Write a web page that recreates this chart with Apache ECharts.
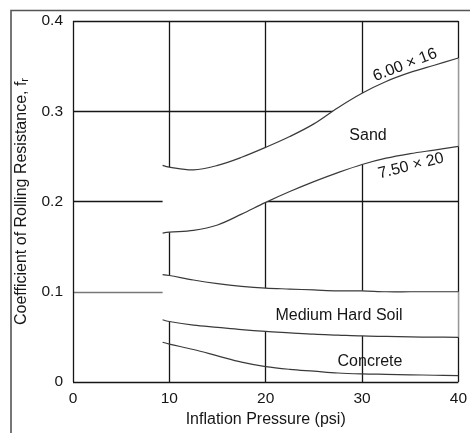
<!DOCTYPE html>
<html>
<head>
<meta charset="utf-8">
<script src="https://cdn.jsdelivr.net/npm/echarts@6/dist/echarts.min.js"></script>
<style>
  html, body { margin: 0; padding: 0; background: #fff; }
  #chart { width: 470px; height: 433px; }
</style>
</head>
<body>
<div id="chart"></div>
<script>
// Inflation pressure (psi) at which each curve is sampled
const pressure = [9.3, 10, 12.5, 15, 17.5, 20, 22.5, 25, 27.5, 30, 32.5, 35, 37.5, 40];

// Rolling resistance coefficient f_r
const sand600x16 = [0.240, 0.238, 0.235, 0.240, 0.249, 0.260, 0.272, 0.286, 0.304, 0.320, 0.333, 0.343, 0.351, 0.359];
const sand750x20 = [0.165, 0.166, 0.168, 0.174, 0.186, 0.199, 0.211, 0.222, 0.232, 0.241, 0.248, 0.253, 0.257, 0.261];
const soilUpper  = [0.119, 0.118, 0.113, 0.109, 0.106, 0.104, 0.103, 0.102, 0.101, 0.101, 0.100, 0.100, 0.100, 0.100];
const soilLower  = [0.069, 0.067, 0.063, 0.0605, 0.058, 0.056, 0.0545, 0.053, 0.052, 0.051, 0.0505, 0.050, 0.0497, 0.0495];
const concrete   = [0.044, 0.042, 0.036, 0.029, 0.022, 0.017, 0.014, 0.012, 0.010, 0.009, 0.0085, 0.008, 0.0075, 0.007];

const xTickLabels = ['0', '10', '20', '30', '40'];
const yTickLabels = ['0', '0.1', '0.2', '0.3', '0.4'];

const FONT = "'Liberation Sans', Arial, Helvetica, sans-serif";
const INK = '#161616';
const CURVE = '#3a3a3a';
const SMOOTH = 0.35;

function project(api, ys) {
  return pressure.map((x, i) => api.coord([x, ys[i]]));
}

// White band between two curves, hiding the grid underneath, closed on the right
function bandSeries(upper, lower) {
  return {
    type: 'custom',
    coordinateSystem: 'cartesian2d',
    silent: true,
    z: 3,
    data: [0],
    renderItem: function (params, api) {
      const top = project(api, upper);
      const bot = project(api, lower);
      const n = top.length - 1;
      const ring = [top[0], top[0]].concat(top.slice(1), [top[n], bot[n]], bot.slice().reverse(), [bot[0]]);
      const edgeTop = api.coord([pressure[n], upper[n]]);
      const edgeBot = api.coord([pressure[n], lower[n]]);
      return {
        type: 'group',
        children: [
          { type: 'polygon', shape: { points: ring, smooth: SMOOTH }, style: { fill: '#ffffff', stroke: null } },
          { type: 'line', shape: { x1: edgeTop[0], y1: edgeTop[1], x2: edgeBot[0], y2: edgeBot[1] },
            style: { stroke: '#9a9a9a', lineWidth: 1.2 } },
          { type: 'polyline', shape: { points: top, smooth: SMOOTH }, style: { stroke: CURVE, lineWidth: 1.2, fill: null } },
          { type: 'polyline', shape: { points: bot, smooth: SMOOTH }, style: { stroke: CURVE, lineWidth: 1.2, fill: null } }
        ]
      };
    }
  };
}

function curveSeries(ys) {
  return {
    type: 'custom',
    coordinateSystem: 'cartesian2d',
    silent: true,
    z: 3,
    data: [0],
    renderItem: function (params, api) {
      return { type: 'polyline', shape: { points: project(api, ys), smooth: SMOOTH },
               style: { stroke: CURVE, lineWidth: 1.2, fill: null } };
    }
  };
}

function note(text, x, y, size, deg) {
  return { type: 'text', x: x, y: y, z: 100, silent: true, rotation: (deg || 0) * Math.PI / 180,
           style: { text: text, font: size + 'px ' + FONT, fill: INK, align: 'center', verticalAlign: 'middle' } };
}

const chart = echarts.init(document.getElementById('chart'), null, { renderer: 'canvas' });

const tickStyle = { fontFamily: FONT, fontSize: 15.5, color: INK };
const titleStyle = { fontFamily: FONT, fontSize: 16, color: INK };

chart.setOption({
  animation: false,
  backgroundColor: '#ffffff',
  grid: { left: 73, right: 7, top: 21, bottom: 49 },
  xAxis: {
    type: 'value', min: 0, max: 40, interval: 10,
    name: 'Inflation Pressure (psi)',
    nameLocation: 'middle', nameGap: 30,
    nameTextStyle: titleStyle,
    axisLine: { show: false }, axisTick: { show: false },
    axisLabel: Object.assign({ margin: 9, formatter: (v, i) => xTickLabels[i] }, tickStyle),
    splitLine: { show: true, showMinLine: true, showMaxLine: true, lineStyle: { color: INK, width: 1.3 } }
  },
  yAxis: {
    type: 'value', min: 0, max: 0.4, interval: 0.1,
    name: 'Coefficient of Rolling Resistance, f{sub|r}',
    nameLocation: 'middle', nameGap: 40, nameRotate: 90,
    nameTextStyle: Object.assign({
      rich: { sub: { fontFamily: FONT, fontSize: 11, color: INK, verticalAlign: 'bottom', padding: [7, 0, 0, 0] } }
    }, titleStyle),
    axisLine: { show: false }, axisTick: { show: false },
    axisLabel: Object.assign({ margin: 10, formatter: (v, i) => yTickLabels[i] }, tickStyle),
    splitLine: { show: true, showMinLine: true, showMaxLine: true,
                 lineStyle: { color: [INK, '#777777', INK, INK, INK], width: 1.3 } }
  },
  series: [
    bandSeries(sand600x16, sand750x20),
    bandSeries(soilUpper, soilLower),
    curveSeries(concrete)
  ],
  graphic: [
    { type: 'polyline', silent: true, z: 100, shape: { points: [[11, 433], [11, 10.5], [470, 10.5]] },
      style: { stroke: '#555', lineWidth: 1.6, fill: null } },
    note('6.00 × 16', 405, 65, 16, 21),
    note('7.50 × 20', 411, 166, 16, 14),
    note('Sand', 368, 136, 16),
    note('Medium Hard Soil', 339, 316, 16),
    note('Concrete', 370, 362, 16)
  ]
});
</script>
</body>
</html>
